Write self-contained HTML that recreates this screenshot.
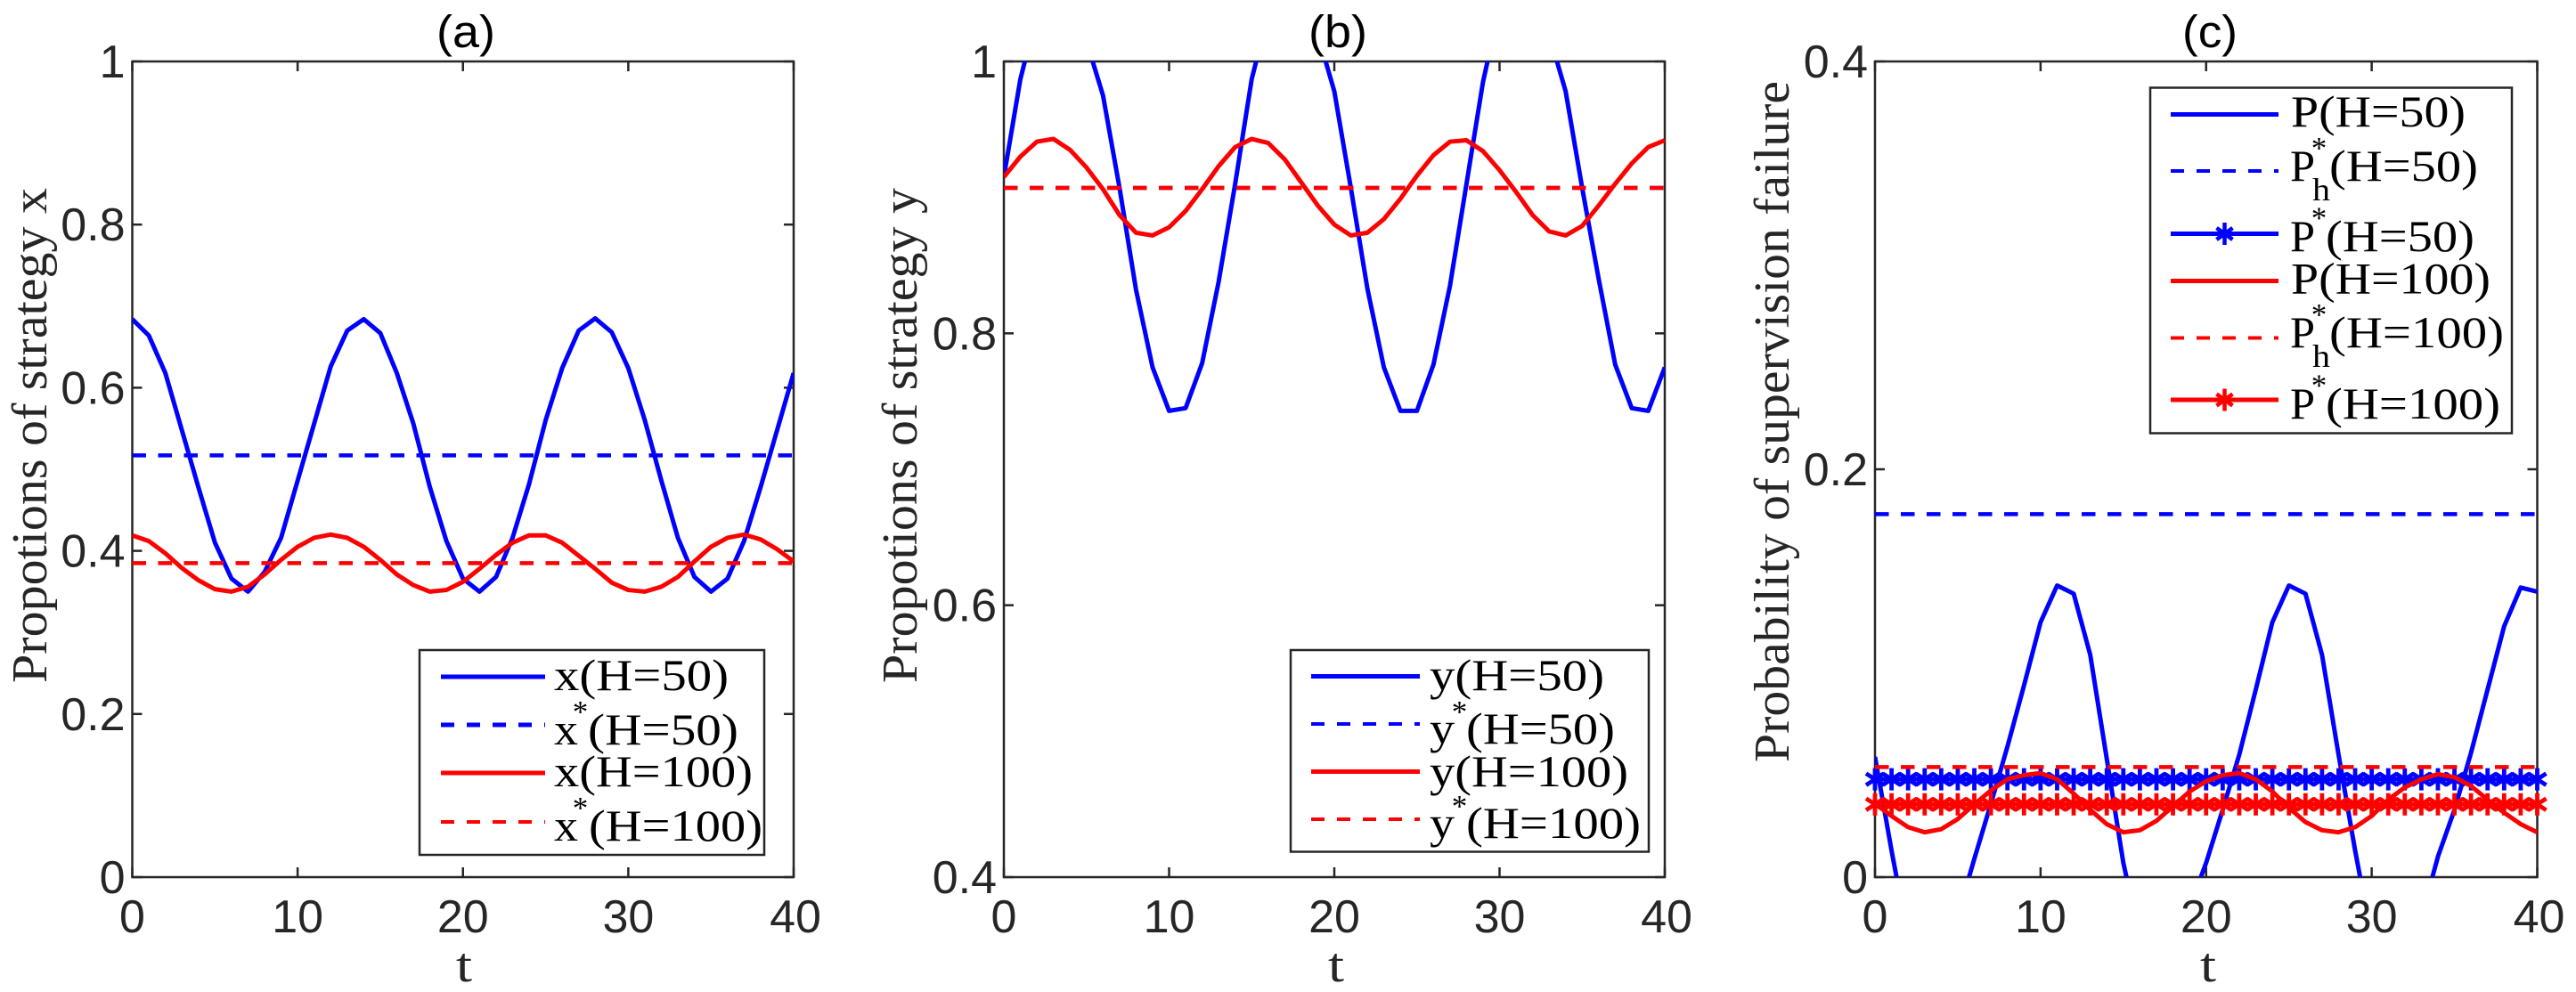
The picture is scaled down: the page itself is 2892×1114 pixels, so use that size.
<!DOCTYPE html>
<html lang="en">
<head>
<meta charset="utf-8">
<title>Propotions of strategy x, y and probability of supervision failure</title>
<style>
html,body{margin:0;padding:0;background:#fff;width:2892px;height:1114px;overflow:hidden}
svg{display:block}
.serif{font-family:"Liberation Serif","Times New Roman",serif}
.sans{font-family:"Liberation Sans",Arial,sans-serif}
.lg{font-size:50px;fill:#000}
.sup{font-size:35px;fill:#000}
.sub{font-size:36px;fill:#000}
.yl{font-size:56px;fill:#262626}
.ttl{font-size:51px;fill:#000}
.xl{font-size:55px;fill:#262626}
</style>
</head>
<body>
<svg id="fig" xmlns="http://www.w3.org/2000/svg" width="2892" height="1114" viewBox="0 0 2892 1114">
  <rect width="2892" height="1114" fill="#fff"/>
  <defs>
    <clipPath id="clip-a"><rect x="148.5" y="69" width="742.5" height="916"/></clipPath>
    <clipPath id="clip-b"><rect x="1127" y="69" width="742" height="916"/></clipPath>
    <clipPath id="clip-c"><rect x="2105" y="69" width="743.5" height="916"/></clipPath>
  </defs>

  <text class="sans ttl" x="523" y="53" text-anchor="middle" textLength="66" lengthAdjust="spacingAndGlyphs">(a)</text>
  <text class="sans ttl" x="1502" y="53" text-anchor="middle" textLength="66" lengthAdjust="spacingAndGlyphs">(b)</text>
  <text class="sans ttl" x="2481" y="53" text-anchor="middle" textLength="62" lengthAdjust="spacingAndGlyphs">(c)</text>

  <text class="serif xl" x="512" y="1102" textLength="18" lengthAdjust="spacingAndGlyphs">t</text>
  <text class="serif xl" x="1491" y="1102" textLength="18" lengthAdjust="spacingAndGlyphs">t</text>
  <text class="serif xl" x="2470" y="1102" textLength="18" lengthAdjust="spacingAndGlyphs">t</text>

  <text class="serif yl" transform="translate(52,767) rotate(-90)" textLength="556" lengthAdjust="spacingAndGlyphs">Propotions of strategy x</text>
  <text class="serif yl" transform="translate(1029,767) rotate(-90)" textLength="556" lengthAdjust="spacingAndGlyphs">Propotions of strategy y</text>
  <text class="serif yl" transform="translate(2008,856) rotate(-90)" textLength="765" lengthAdjust="spacingAndGlyphs">Probability of supervision failure</text>

  <g id="axes-layer"></g>
  <g id="series-layer"></g>

  <!-- Legend (a) -->
  <g>
    <rect x="471" y="730" width="387" height="230" fill="#fff" stroke="#262626" stroke-width="2.5"/>
    <line x1="495" x2="612" y1="760" y2="760" stroke="#00f" stroke-width="5"/>
    <text class="serif lg" x="622" y="775" textLength="196" lengthAdjust="spacingAndGlyphs">x(H=50)</text>
    <line x1="495" x2="612" y1="814" y2="814" stroke="#00f" stroke-width="5" stroke-dasharray="15 14"/>
    <text class="serif lg" x="622" y="836" textLength="27" lengthAdjust="spacingAndGlyphs">x</text>
    <text class="serif sup" x="651.5" y="811" text-anchor="middle">*</text>
    <text class="serif lg" x="660" y="836" textLength="169" lengthAdjust="spacingAndGlyphs">(H=50)</text>
    <line x1="495" x2="612" y1="868" y2="868" stroke="#f00" stroke-width="5"/>
    <text class="serif lg" x="622" y="883" textLength="223" lengthAdjust="spacingAndGlyphs">x(H=100)</text>
    <line x1="495" x2="612" y1="923" y2="923" stroke="#f00" stroke-width="4" stroke-dasharray="15 14"/>
    <text class="serif lg" x="622" y="944" textLength="27" lengthAdjust="spacingAndGlyphs">x</text>
    <text class="serif sup" x="651.5" y="919" text-anchor="middle">*</text>
    <text class="serif lg" x="661" y="944" textLength="195" lengthAdjust="spacingAndGlyphs">(H=100)</text>
  </g>

  <!-- Legend (b) -->
  <g>
    <rect x="1449" y="730" width="402" height="226.5" fill="#fff" stroke="#262626" stroke-width="2.5"/>
    <line x1="1472" x2="1594" y1="759.5" y2="759.5" stroke="#00f" stroke-width="5"/>
    <text class="serif lg" x="1605" y="775" textLength="196" lengthAdjust="spacingAndGlyphs">y(H=50)</text>
    <line x1="1472" x2="1594" y1="813" y2="813" stroke="#00f" stroke-width="4" stroke-dasharray="15 14"/>
    <text class="serif lg" x="1605" y="835" textLength="28" lengthAdjust="spacingAndGlyphs">y</text>
    <text class="serif sup" x="1638.5" y="811" text-anchor="middle">*</text>
    <text class="serif lg" x="1646" y="835" textLength="167" lengthAdjust="spacingAndGlyphs">(H=50)</text>
    <line x1="1472" x2="1594" y1="866.5" y2="866.5" stroke="#f00" stroke-width="5"/>
    <text class="serif lg" x="1605" y="883" textLength="223" lengthAdjust="spacingAndGlyphs">y(H=100)</text>
    <line x1="1472" x2="1594" y1="920" y2="920" stroke="#f00" stroke-width="4" stroke-dasharray="15 14"/>
    <text class="serif lg" x="1605" y="941" textLength="28" lengthAdjust="spacingAndGlyphs">y</text>
    <text class="serif sup" x="1638.5" y="917" text-anchor="middle">*</text>
    <text class="serif lg" x="1646" y="941" textLength="196" lengthAdjust="spacingAndGlyphs">(H=100)</text>
  </g>

  <!-- Legend (c) -->
  <g>
    <rect x="2414" y="98.5" width="406" height="388" fill="#fff" stroke="#262626" stroke-width="2.5"/>
    <line x1="2437" x2="2558" y1="128.5" y2="128.5" stroke="#00f" stroke-width="5"/>
    <text class="serif lg" x="2572" y="142" textLength="196" lengthAdjust="spacingAndGlyphs">P(H=50)</text>

    <line x1="2437" x2="2558" y1="192" y2="192" stroke="#00f" stroke-width="4" stroke-dasharray="15 14"/>
    <text class="serif lg" x="2571" y="203" textLength="28" lengthAdjust="spacingAndGlyphs">P</text>
    <text class="serif sup" x="2603.5" y="178" text-anchor="middle">*</text>
    <text class="serif sub" x="2596" y="225" textLength="20" lengthAdjust="spacingAndGlyphs">h</text>
    <text class="serif lg" x="2615" y="203" textLength="167" lengthAdjust="spacingAndGlyphs">(H=50)</text>

    <line x1="2437" x2="2558" y1="262.5" y2="262.5" stroke="#00f" stroke-width="5"/>
    <path d="M2497.5 250v25M2488.5 256l18 13M2506.5 256l-18 13" stroke="#00f" stroke-width="4.5" fill="none"/>
    <text class="serif lg" x="2571" y="282" textLength="28" lengthAdjust="spacingAndGlyphs">P</text>
    <text class="serif sup" x="2603.5" y="256.5" text-anchor="middle">*</text>
    <text class="serif lg" x="2611" y="282" textLength="167" lengthAdjust="spacingAndGlyphs">(H=50)</text>

    <line x1="2437" x2="2558" y1="315.5" y2="315.5" stroke="#f00" stroke-width="5"/>
    <text class="serif lg" x="2572" y="329.5" textLength="224" lengthAdjust="spacingAndGlyphs">P(H=100)</text>

    <line x1="2437" x2="2558" y1="379.5" y2="379.5" stroke="#f00" stroke-width="4" stroke-dasharray="15 14"/>
    <text class="serif lg" x="2571" y="390" textLength="28" lengthAdjust="spacingAndGlyphs">P</text>
    <text class="serif sup" x="2603.5" y="365" text-anchor="middle">*</text>
    <text class="serif sub" x="2596" y="412" textLength="20" lengthAdjust="spacingAndGlyphs">h</text>
    <text class="serif lg" x="2615" y="390" textLength="196" lengthAdjust="spacingAndGlyphs">(H=100)</text>

    <line x1="2437" x2="2558" y1="449" y2="449" stroke="#f00" stroke-width="5"/>
    <path d="M2497.5 436.5v25M2488.5 442.5l18 13M2506.5 442.5l-18 13" stroke="#f00" stroke-width="4.5" fill="none"/>
    <text class="serif lg" x="2571" y="470" textLength="28" lengthAdjust="spacingAndGlyphs">P</text>
    <text class="serif sup" x="2603.5" y="444.5" text-anchor="middle">*</text>
    <text class="serif lg" x="2611" y="470" textLength="196" lengthAdjust="spacingAndGlyphs">(H=100)</text>
  </g>
</svg>

<script>
const tValues = [0,1,2,3,4,5,6,7,8,9,10,11,12,13,14,15,16,17,18,19,20,21,22,23,24,25,26,27,28,29,30,31,32,33,34,35,36,37,38,39,40];
const xTickValues = [0,10,20,30,40];
const xTickLabels = ['0','10','20','30','40'];

const yTicksA = [0,0.2,0.4,0.6,0.8,1];
const yTickLabelsA = ['0','0.2','0.4','0.6','0.8','1'];
const yTicksB = [0.4,0.6,0.8,1];
const yTickLabelsB = ['0.4','0.6','0.8','1'];
const yTicksC = [0,0.2,0.4];
const yTickLabelsC = ['0','0.2','0.4'];

const xH50 = [.684,.664,.618,.548,.478,.41,.366,.35,.374,.416,.486,.556,.626,.67,.684,.667,.618,.556,.478,.412,.366,.35,.368,.416,.482,.56,.624,.67,.685,.668,.624,.56,.486,.416,.368,.35,.366,.412,.478,.548,.618];
const xH100 = [.419,.412,.397,.379,.364,.353,.35,.356,.371,.389,.405,.416,.42,.416,.405,.389,.371,.358,.35,.352,.362,.378,.395,.41,.419,.419,.41,.394,.378,.361,.352,.35,.356,.368,.387,.405,.416,.42,.414,.402,.387];
const xStarH50 = [0.517];
const xStarH100 = [0.385];

const yH50 = [.915,.987,1.035,1.06,1.05,1.015,.975,.907,.832,.775,.743,.745,.778,.838,.91,.987,1.035,1.06,1.05,1.02,.978,.907,.833,.775,.743,.743,.777,.835,.91,.985,1.04,1.06,1.05,1.02,.978,.907,.84,.777,.745,.743,.775];
const yH100 = [.915,.93,.941,.943,.935,.922,.906,.887,.874,.872,.878,.89,.906,.923,.937,.943,.94,.928,.911,.894,.88,.872,.874,.884,.899,.916,.931,.941,.942,.934,.92,.904,.887,.875,.872,.879,.894,.91,.925,.937,.942];
const yStarH50 = [0.907];
const yStarH100 = [0.907];

const pH50 = [.059,.013,-.03,-.05,-.045,-.019,.009,.036,.064,.094,.125,.143,.139,.109,.058,.007,-.03,-.05,-.05,-.015,.007,.033,.06,.092,.125,.143,.139,.109,.06,.013,-.03,-.05,-.05,-.02,.01,.033,.061,.092,.123,.142,.14];
const pH100 = [.036,.03,.0245,.022,.0235,.0285,.0357,.0425,.048,.05,.051,.048,.041,.033,.026,.022,.023,.0276,.0347,.042,.047,.05,.051,.048,.042,.034,.027,.023,.022,.0245,.03,.038,.044,.048,.0505,.049,.0447,.038,.0316,.026,.022];
const pHStarH50 = [0.178];
const pHStarH100 = [0.054];
const pStarH50 = [0.048];
const pStarH100 = [0.0357];

const BLUE = '#0000ff';
const RED = '#ff0000';
const INK = '#262626';
const NS = 'http://www.w3.org/2000/svg';
const axesLayer = document.getElementById('axes-layer');
const seriesLayer = document.getElementById('series-layer');

function make(parent, tag, attrs) {
  const el = document.createElementNS(NS, tag);
  Object.keys(attrs).forEach(function (k) { el.setAttribute(k, attrs[k]); });
  parent.appendChild(el);
  return el;
}

function makeAxes(box, yMin, yMax) {
  return {
    box: box,
    x: function (t) { return box.left + (t - 0) / 40 * (box.right - box.left); },
    y: function (v) { return box.bottom - (v - yMin) / (yMax - yMin) * (box.bottom - box.top); }
  };
}

function drawAxes(ax, name, yTicks, yLabels) {
  const b = ax.box;
  const g = make(axesLayer, 'g', {});
  
  
  const frame = make(g, 'rect', { x: b.left, y: b.top, width: b.right - b.left, height: b.bottom - b.top, fill: 'none', stroke: INK, 'stroke-width': 2.5 });
  
  
  xTickValues.forEach(function (t, i) {
    const px = ax.x(t);
    const tickBottom = make(g, 'line', { x1: px, x2: px, y1: b.bottom, y2: b.bottom - 11, stroke: INK, 'stroke-width': 2.5 });
    
    
    const tickTop = make(g, 'line', { x1: px, x2: px, y1: b.top, y2: b.top + 11, stroke: INK, 'stroke-width': 2.5 });
    
    
    const label = make(g, 'text', { x: px + (i === 4 ? 2 : 0), y: 1047, 'text-anchor': 'middle', 'font-size': 52, fill: INK, 'font-family': '"Liberation Sans", Arial, sans-serif' });
    label.textContent = xTickLabels[i];
    
    
  });
  yTicks.forEach(function (v, i) {
    const py = ax.y(v);
    const tickLeft = make(g, 'line', { x1: b.left, x2: b.left + 11, y1: py, y2: py, stroke: INK, 'stroke-width': 2.5 });
    
    
    const tickRight = make(g, 'line', { x1: b.right, x2: b.right - 11, y1: py, y2: py, stroke: INK, 'stroke-width': 2.5 });
    
    
    const label = make(g, 'text', { x: b.left - 8, y: py + 18, 'text-anchor': 'end', 'font-size': 52, fill: INK, 'font-family': '"Liberation Sans", Arial, sans-serif' });
    label.textContent = yLabels[i];
    
    
  });
}

function curvePath(ax, values) {
  return values.map(function (v, i) {
    return (i ? 'L' : 'M') + ax.x(tValues[i]).toFixed(2) + ' ' + ax.y(v).toFixed(2);
  }).join('');
}

function drawCurve(ax, clip, values, color, name) {
  const p = make(seriesLayer, 'path', { d: curvePath(ax, values), fill: 'none', stroke: color, 'stroke-width': 5, 'stroke-linejoin': 'round', 'clip-path': 'url(#' + clip + ')' });
  
  
  return p;
}

function drawLevel(ax, value, color, name, dashed) {
  const t0 = tValues[0];
  const t1 = tValues[tValues.length - 1];
  const attrs = { x1: ax.x(t0), x2: ax.x(t1), y1: ax.y(value), y2: ax.y(value), stroke: color, 'stroke-width': dashed ? 4.5 : 5 };
  if (dashed) { attrs['stroke-dasharray'] = '15.5 13.5'; }
  const l = make(seriesLayer, 'line', attrs);
  
  
  return l;
}

function drawStars(ax, value, color, name) {
  const g = make(seriesLayer, 'g', {});
  
  
  tValues.forEach(function (t) {
    const px = ax.x(t);
    const py = ax.y(value);
    const d = 'M' + px + ' ' + (py - 12.5) + 'v25M' + (px - 10) + ' ' + (py - 6.5) + 'l20 13M' + (px + 10) + ' ' + (py - 6.5) + 'l-20 13';
    const s = make(g, 'path', { d: d, stroke: color, 'stroke-width': 4.8, fill: 'none' });
    
    
  });
}

const axA = makeAxes({ left: 148.5, right: 891, top: 69, bottom: 985 }, 0, 1);
const axB = makeAxes({ left: 1127, right: 1869, top: 69, bottom: 985 }, 0.4, 1);
const axC = makeAxes({ left: 2105, right: 2848.5, top: 69, bottom: 985 }, 0, 0.4);

drawAxes(axA, 'panel-a', yTicksA, yTickLabelsA);
drawAxes(axB, 'panel-b', yTicksB, yTickLabelsB);
drawAxes(axC, 'panel-c', yTicksC, yTickLabelsC);

drawCurve(axA, 'clip-a', xH50, BLUE, 'x-h50-line');
drawLevel(axA, xStarH50[0], BLUE, 'xstar-h50-line', true);
drawCurve(axA, 'clip-a', xH100, RED, 'x-h100-line');
drawLevel(axA, xStarH100[0], RED, 'xstar-h100-line', true);

drawCurve(axB, 'clip-b', yH50, BLUE, 'y-h50-line');
drawLevel(axB, yStarH50[0], BLUE, 'ystar-h50-line', true);
drawCurve(axB, 'clip-b', yH100, RED, 'y-h100-line');
drawLevel(axB, yStarH100[0], RED, 'ystar-h100-line', true);

drawCurve(axC, 'clip-c', pH50, BLUE, 'p-h50-line');
drawLevel(axC, pHStarH50[0], BLUE, 'phstar-h50-line', true);
drawLevel(axC, pStarH50[0], BLUE, 'pstar-h50-line', false);
drawStars(axC, pStarH50[0], BLUE, 'pstar-h50');
drawCurve(axC, 'clip-c', pH100, RED, 'p-h100-line');
drawLevel(axC, pHStarH100[0], RED, 'phstar-h100-line', true);
drawLevel(axC, pStarH100[0], RED, 'pstar-h100-line', false);
drawStars(axC, pStarH100[0], RED, 'pstar-h100');
</script>
</body>
</html>
